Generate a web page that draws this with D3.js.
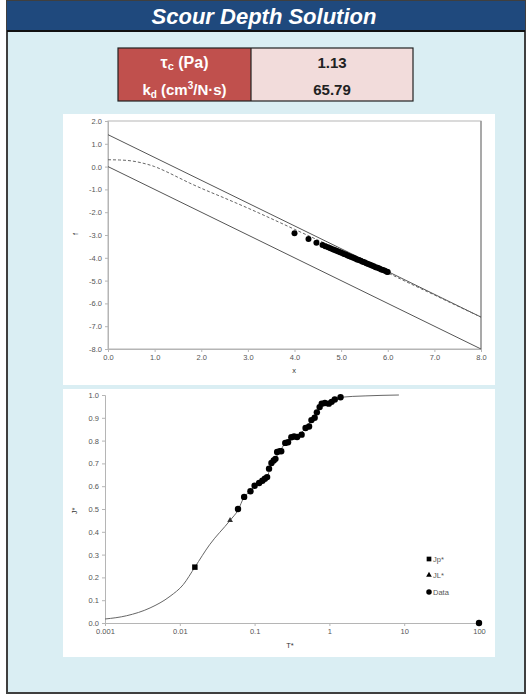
<!DOCTYPE html>
<html><head><meta charset="utf-8">
<script src="https://cdn.jsdelivr.net/npm/d3@7"></script>
<style>html,body{margin:0;padding:0;background:#fff;}svg{display:block;}</style>
</head><body>
<script>
// ---- data ----
const tauC = "1.13";
const kD = "65.79";

// chart 1 (f vs x)
const upperLineX = [0, 8];
const upperLineF = [1.4, -6.6];
const lowerLineX = [0, 8];
const lowerLineF = [0, -8];
const dashX = [0, 0.25, 0.5, 0.75, 1.0, 1.25, 1.5, 1.75, 2.0, 2.5, 3.0, 3.5, 4.0, 4.5, 5.0, 5.5, 6.0, 6.5, 7.0, 7.5, 8.0];
const dashF = [0.30, 0.29, 0.25, 0.15, 0.0, -0.22, -0.47, -0.72, -0.95, -1.38, -1.82, -2.28, -2.75, -3.22, -3.70, -4.18, -4.66, -5.15, -5.63, -6.12, -6.60];
const ptsX = [4.00, 4.30, 4.47, 4.60, 4.66, 4.72, 4.77, 4.82, 4.86, 4.90, 4.94, 4.98, 5.02, 5.06, 5.10, 5.14, 5.18, 5.22, 5.26, 5.30, 5.34, 5.38, 5.42, 5.46, 5.50, 5.54, 5.58, 5.62, 5.66, 5.70, 5.74, 5.78, 5.82, 5.86, 5.90, 5.94, 5.98, 6.00];
const ptsF = [-2.92, -3.17, -3.34, -3.44, -3.49, -3.54, -3.58, -3.62, -3.66, -3.69, -3.72, -3.76, -3.79, -3.83, -3.86, -3.90, -3.93, -3.96, -4.00, -4.03, -4.07, -4.10, -4.13, -4.17, -4.20, -4.24, -4.27, -4.30, -4.34, -4.37, -4.41, -4.44, -4.47, -4.51, -4.54, -4.57, -4.61, -4.62];
const xTicks1 = [0, 1, 2, 3, 4, 5, 6, 7, 8];
const yTicks1 = [2, 1, 0, -1, -2, -3, -4, -5, -6, -7, -8];

// chart 2 (J* vs T*)
const curveT = [0.001, 0.00195, 0.004, 0.0074, 0.0111, 0.0159, 0.025, 0.047, 0.060, 0.0725, 0.088, 0.10, 0.127, 0.147, 0.168, 0.19, 0.217, 0.257, 0.31, 0.37, 0.48, 0.575, 0.68, 0.79, 0.98, 1.18, 1.41, 3.0, 8.5];
const curveJ = [0.0175, 0.032, 0.066, 0.117, 0.168, 0.245, 0.343, 0.45, 0.495, 0.553, 0.578, 0.602, 0.624, 0.640, 0.700, 0.725, 0.752, 0.790, 0.812, 0.820, 0.855, 0.890, 0.924, 0.960, 0.965, 0.980, 0.990, 0.996, 1.0];
const dataT = [0.060, 0.0725, 0.088, 0.10, 0.115, 0.127, 0.137, 0.147, 0.156, 0.168, 0.18, 0.19, 0.20, 0.217, 0.227, 0.257, 0.28, 0.31, 0.337, 0.37, 0.425, 0.48, 0.535, 0.575, 0.635, 0.68, 0.74, 0.79, 0.87, 0.98, 1.07, 1.18, 1.41, 100];
const dataJ = [0.50, 0.553, 0.578, 0.602, 0.614, 0.624, 0.633, 0.640, 0.677, 0.702, 0.713, 0.720, 0.750, 0.754, 0.753, 0.790, 0.793, 0.815, 0.818, 0.816, 0.826, 0.855, 0.862, 0.890, 0.900, 0.924, 0.947, 0.962, 0.965, 0.962, 0.970, 0.980, 0.990, 0.0];
const jpT = [0.0159], jpJ = [0.245];
const jlT = [0.047], jlJ = [0.45];
const xTicks2 = [0.001, 0.01, 0.1, 1, 10, 100];
const xTickLabels2 = ["0.001", "0.01", "0.1", "1", "10", "100"];
const yTicks2 = [0, 0.1, 0.2, 0.3, 0.4, 0.5, 0.6, 0.7, 0.8, 0.9, 1.0];
const legendLabels = ["Jp*", "JL*", "Data"];

// ---- drawing ----
const W = 528, H = 696;
const svg = d3.select("body").append("svg").attr("width", W).attr("height", H);
const FONT = "Liberation Sans, Arial, sans-serif";

svg.append("rect").attr("x", 0).attr("y", 0).attr("width", W).attr("height", H).attr("fill", "#fff");
svg.append("rect").attr("x", 7).attr("y", 1).attr("width", 518).attr("height", 692)
  .attr("fill", "#daeef3").attr("stroke", "#3f3f3f").attr("stroke-width", 2);
svg.append("rect").attr("x", 7).attr("y", 1).attr("width", 518).attr("height", 30).attr("fill", "#1f497d");
svg.append("line").attr("x1", 7).attr("x2", 525).attr("y1", 31).attr("y2", 31).attr("stroke", "#111").attr("stroke-width", 2);
svg.append("text").attr("x", 264).attr("y", 24).attr("text-anchor", "middle")
  .attr("font-family", FONT).attr("font-weight", "bold").attr("font-style", "italic")
  .attr("font-size", 22).attr("fill", "#fff").text("Scour Depth Solution");

// table
const tx = 118, tMid = 251, tR = 413, tY = 48, tB = 101;
svg.append("rect").attr("x", tx).attr("y", tY).attr("width", tMid - tx).attr("height", tB - tY).attr("fill", "#c0504d");
svg.append("rect").attr("x", tMid).attr("y", tY).attr("width", tR - tMid).attr("height", tB - tY).attr("fill", "#f2dcdb");
svg.append("rect").attr("x", tx).attr("y", tY).attr("width", tR - tx).attr("height", tB - tY)
  .attr("fill", "none").attr("stroke", "#222").attr("stroke-width", 1.2);
svg.append("line").attr("x1", tMid).attr("x2", tMid).attr("y1", tY).attr("y2", tB).attr("stroke", "#222").attr("stroke-width", 1.2);

const t1 = svg.append("text").attr("x", (tx + tMid) / 2).attr("y", 68).attr("text-anchor", "middle")
  .attr("font-family", FONT).attr("font-weight", "bold").attr("font-size", 16).attr("fill", "#fff");
t1.append("tspan").text("τ");
t1.append("tspan").attr("font-size", 11).attr("dy", 2).text("c");
t1.append("tspan").attr("dy", -2).text(" (Pa)");
const t2 = svg.append("text").attr("x", (tx + tMid) / 2).attr("y", 95).attr("text-anchor", "middle")
  .attr("font-family", FONT).attr("font-weight", "bold").attr("font-size", 15).attr("fill", "#fff");
t2.append("tspan").text("k");
t2.append("tspan").attr("font-size", 10).attr("dy", 3).text("d");
t2.append("tspan").attr("dy", -3).text(" (cm");
t2.append("tspan").attr("font-size", 10).attr("dy", -6).text("3");
t2.append("tspan").attr("dy", 6).text("/N·s)");
svg.append("text").attr("x", (tMid + tR) / 2).attr("y", 68).attr("text-anchor", "middle")
  .attr("font-family", FONT).attr("font-weight", "bold").attr("font-size", 15).attr("fill", "#222").text(tauC);
svg.append("text").attr("x", (tMid + tR) / 2).attr("y", 95).attr("text-anchor", "middle")
  .attr("font-family", FONT).attr("font-weight", "bold").attr("font-size", 15).attr("fill", "#222").text(kD);

// ---------- chart 1 ----------
svg.append("rect").attr("x", 63).attr("y", 114).attr("width", 432).attr("height", 271).attr("fill", "#fff");
const x1 = d3.scaleLinear().domain([0, 8]).range([108, 481]);
const y1 = d3.scaleLinear().domain([-8, 2]).range([349, 121]);
const g1 = svg.append("g");
g1.append("rect").attr("x", 108).attr("y", 121).attr("width", 373).attr("height", 228)
  .attr("fill", "none").attr("stroke", "#b5b5b5").attr("stroke-width", 1);
g1.append("line").attr("x1", 481).attr("x2", 481).attr("y1", 121).attr("y2", 349).attr("stroke", "#999").attr("stroke-width", 1.5);

const fmt1 = d => d3.format(".1f")(d).replace("−", "-");
const ax1 = g1.append("g").attr("transform", "translate(0,349)")
  .call(d3.axisBottom(x1).tickValues(xTicks1).tickFormat(fmt1).tickSize(3).tickPadding(3));
const ay1 = g1.append("g").attr("transform", "translate(108,0)")
  .call(d3.axisLeft(y1).tickValues(yTicks1).tickFormat(fmt1).tickSize(3).tickPadding(3));
[ax1, ay1].forEach(a => {
  a.select(".domain").attr("stroke", "#b5b5b5");
  a.selectAll(".tick line").attr("stroke", "#b5b5b5");
  a.selectAll(".tick text").attr("font-family", FONT).attr("font-size", 7.5).attr("fill", "#555");
});

const line1 = d3.line().x(d => x1(d[0])).y(d => y1(d[1]));
g1.append("path").attr("d", line1(d3.zip(upperLineX, upperLineF))).attr("fill", "none").attr("stroke", "#555").attr("stroke-width", 1);
g1.append("path").attr("d", line1(d3.zip(lowerLineX, lowerLineF))).attr("fill", "none").attr("stroke", "#555").attr("stroke-width", 1);
g1.append("path").attr("d", d3.line().curve(d3.curveMonotoneX).x(d => x1(d[0])).y(d => y1(d[1]))(d3.zip(dashX, dashF)))
  .attr("fill", "none").attr("stroke", "#666").attr("stroke-width", 1).attr("stroke-dasharray", "3,2");
g1.selectAll("circle.p").data(d3.zip(ptsX, ptsF)).join("circle").attr("class", "p")
  .attr("cx", d => x1(d[0])).attr("cy", d => y1(d[1])).attr("r", 3).attr("fill", "#000");
svg.append("text").attr("x", 294).attr("y", 373).attr("text-anchor", "middle")
  .attr("font-family", FONT).attr("font-size", 7.5).attr("fill", "#333").text("x");
svg.append("text").attr("transform", "translate(78,234) rotate(-90)").attr("text-anchor", "middle")
  .attr("font-family", FONT).attr("font-size", 7.5).attr("fill", "#333").text("f");

// ---------- chart 2 ----------
svg.append("rect").attr("x", 63).attr("y", 389).attr("width", 432).attr("height", 268).attr("fill", "#fff");
const x2 = d3.scaleLog().domain([0.001, 100]).range([105, 479]);
const y2 = d3.scaleLinear().domain([0, 1]).range([623, 395]);
const g2 = svg.append("g");
const ax2 = g2.append("g").attr("transform", "translate(0,623)")
  .call(d3.axisBottom(x2).tickValues(xTicks2).tickFormat((d, i) => xTickLabels2[i]).tickSize(3).tickPadding(3));
const ay2 = g2.append("g").attr("transform", "translate(105,0)")
  .call(d3.axisLeft(y2).tickValues(yTicks2).tickFormat(d3.format(".1f")).tickSize(3).tickPadding(3));
[ax2, ay2].forEach(a => {
  a.select(".domain").attr("stroke", "#b5b5b5");
  a.selectAll(".tick line").attr("stroke", "#b5b5b5");
  a.selectAll(".tick text").attr("font-family", FONT).attr("font-size", 7.5).attr("fill", "#555");
});
g2.append("path").attr("d", d3.line().curve(d3.curveMonotoneX).x(d => x2(d[0])).y(d => y2(d[1]))(d3.zip(curveT, curveJ)))
  .attr("fill", "none").attr("stroke", "#666").attr("stroke-width", 1);
g2.selectAll("circle.d").data(d3.zip(dataT, dataJ)).join("circle").attr("class", "d")
  .attr("cx", d => x2(d[0])).attr("cy", d => y2(d[1])).attr("r", 3.2).attr("fill", "#000");
const sq = d3.symbol().type(d3.symbolSquare).size(30);
const tri = d3.symbol().type(d3.symbolTriangle).size(14);
g2.selectAll("path.jp").data(d3.zip(jpT, jpJ)).join("path").attr("class", "jp")
  .attr("transform", d => `translate(${x2(d[0])},${y2(d[1])})`).attr("d", sq).attr("fill", "#000");
g2.selectAll("path.jl").data(d3.zip(jlT, jlJ)).join("path").attr("class", "jl")
  .attr("transform", d => `translate(${x2(d[0])},${y2(d[1])})`).attr("d", tri).attr("fill", "#333");
svg.append("text").attr("x", 290).attr("y", 648).attr("text-anchor", "middle")
  .attr("font-family", FONT).attr("font-size", 7.5).attr("fill", "#333").text("T*");
svg.append("text").attr("transform", "translate(77,511) rotate(-90)").attr("text-anchor", "middle")
  .attr("font-family", FONT).attr("font-size", 7.5).attr("fill", "#333").text("J*");

// legend
const legY = [559, 575, 592];
const legSyms = [d3.symbol().type(d3.symbolSquare).size(22), d3.symbol().type(d3.symbolTriangle).size(14), d3.symbol().type(d3.symbolCircle).size(24)];
legendLabels.forEach((lab, i) => {
  svg.append("path").attr("transform", `translate(429,${legY[i]})`).attr("d", legSyms[i]()).attr("fill", "#000");
  svg.append("text").attr("x", 433).attr("y", legY[i] + 2.5).attr("font-family", FONT).attr("font-size", 7.5)
    .attr("fill", "#555").text(lab);
});
</script>
</body></html>
